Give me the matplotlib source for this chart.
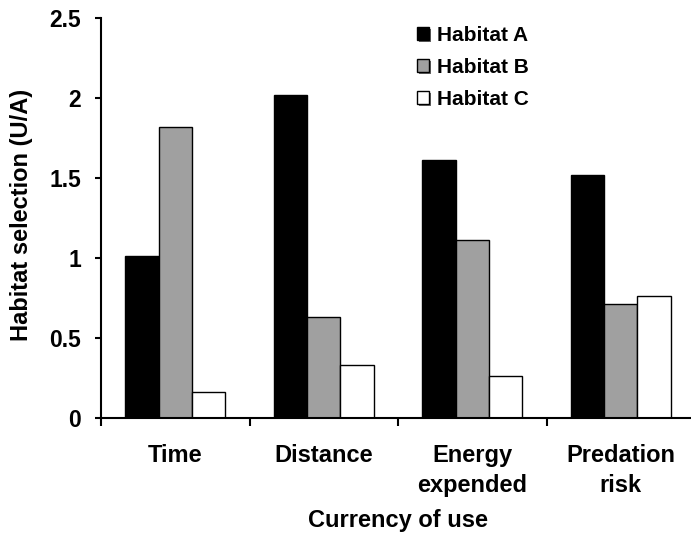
import numpy as np
import matplotlib
matplotlib.use('Agg')
import matplotlib.pyplot as plt
import matplotlib.patheffects as pe

# Values
categories = ['Time', 'Distance', 'Energy\nexpended', 'Predation\nrisk']
habitat_a = [1.01, 2.02, 1.61, 1.52]
habitat_b = [1.82, 0.63, 1.11, 0.71]
habitat_c = [0.16, 0.33, 0.26, 0.76]
series_names = ['Habitat A', 'Habitat B', 'Habitat C']
yticks = [0, 0.5, 1, 1.5, 2, 2.5]
ytick_labels = ['0', '0.5', '1', '1.5', '2', '2.5']

plt.rcParams['font.family'] = ['Liberation Sans', 'DejaVu Sans']
plt.rcParams['font.weight'] = 'bold'

fig = plt.figure(figsize=(6.91, 5.35), dpi=100)
ax = fig.add_axes([101 / 691, 1 - 418 / 535, 594 / 691, 400 / 535])

x = np.arange(len(categories)) + 0.5
w = 0.225
colors = ['black', '#a0a0a0', 'white']
for i, (vals, name) in enumerate(zip([habitat_a, habitat_b, habitat_c], series_names)):
    ax.bar(x + (i - 1) * w, vals, w, color=colors[i], edgecolor='black',
           linewidth=1.0, label=name)

ax.set_xlim(0, 4)
ax.set_ylim(0, 2.5)
ax.set_yticks(yticks)
ax.set_yticklabels(ytick_labels, fontsize=16.5, fontweight='bold')
ax.set_xticks([0, 1, 2, 3])
ax.set_xticklabels([])
ax.set_xticks(x, minor=True)
ax.set_xticklabels(categories, minor=True, fontsize=17, fontweight='bold',
                   linespacing=1.35)
ax.tick_params(axis='x', which='minor', length=0, pad=19)
ax.tick_params(axis='x', which='major', length=6, width=1.5, direction='out')
ax.tick_params(axis='y', length=4.3, width=1.5, pad=10)

ax.spines['top'].set_visible(False)
ax.spines['right'].set_visible(False)
ax.spines['left'].set_linewidth(1.5)
ax.spines['bottom'].set_linewidth(1.5)

ax.set_xlabel('Currency of use', fontsize=17, fontweight='bold', labelpad=9)
fig.text(22 / 691, 1 - 215 / 535, 'Habitat selection (U/A)', rotation=90,
         ha='center', va='center', fontsize=17, fontweight='bold')

leg = ax.legend(loc='upper left', bbox_to_anchor=(417 / 691, 1 - 26 / 535),
                bbox_transform=fig.transFigure, frameon=False,
                prop={'weight': 'bold', 'size': 15}, handlelength=0.6,
                handleheight=0.6, handletextpad=0.35, labelspacing=0.62,
                borderpad=0, borderaxespad=0)
for h in leg.legend_handles:
    h.set_path_effects([pe.SimplePatchShadow(offset=(1.2, -1.2), shadow_rgbFace='#666666', alpha=1.0),
                        pe.Normal()])

fig.savefig('out.png', dpi=100)
